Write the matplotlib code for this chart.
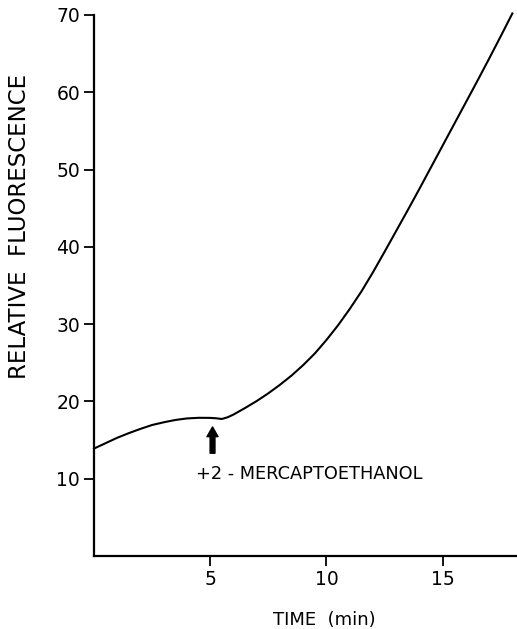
import matplotlib
matplotlib.use("Agg")
import matplotlib.pyplot as plt

time_min = [0, 0.5, 1.0, 1.5, 2.0, 2.5, 3.0, 3.5, 4.0, 4.5, 5.0, 5.25, 5.5, 5.75,
            6.0, 6.5, 7.0, 7.5, 8.0, 8.5, 9.0, 9.5, 10.0, 10.5, 11.0, 11.5, 12.0,
            12.5, 13.0, 13.5, 14.0, 14.5, 15.0, 15.5, 16.0, 16.5, 17.0, 17.5, 18.0]
fluorescence = [13.9, 14.6, 15.3, 15.9, 16.45, 16.95, 17.3, 17.6, 17.8, 17.88, 17.87,
                17.82, 17.73, 17.95, 18.3, 19.15, 20.05, 21.05, 22.15, 23.35, 24.7, 26.2,
                27.95, 29.85, 31.95, 34.2, 36.7, 39.35, 42.05, 44.75, 47.5, 50.3, 53.1,
                55.9, 58.7, 61.5, 64.35, 67.25, 70.2]
x_ticks = [5, 10, 15]
y_ticks = [10, 20, 30, 40, 50, 60, 70]
annotation = "+2 - MERCAPTOETHANOL"
arrow_x = 5.1

plt.rcParams['font.family'] = ['DejaVu Sans']

fig = plt.figure(figsize=(5.17, 6.29), dpi=100)
ax = fig.add_axes([94/517, 73/629, (517-94)/517, (556-15)/629])
ax.plot(time_min, fluorescence, color='black', lw=1.5, clip_on=False,
        solid_joinstyle='round')
ax.set_xlim(0, 18.2)
ax.set_ylim(0, 70)
ax.set_xticks(x_ticks)
ax.set_yticks(y_ticks)
ax.tick_params(direction='out', length=7, width=1.3, labelsize=13.5, pad=3)
for s in ['top', 'right']:
    ax.spines[s].set_visible(False)
for s in ['left', 'bottom']:
    ax.spines[s].set_linewidth(1.6)

ax.annotate('', xy=(arrow_x, 16.7), xytext=(arrow_x, 13.3),
            arrowprops=dict(arrowstyle='simple,head_width=0.8,head_length=0.7,tail_width=0.35',
                            color='black', shrinkA=0, shrinkB=0))
ax.text(4.4, 10.6, annotation, ha='left', va='center', fontsize=12.8)

fig.text(20/517, 1 - 226/629, 'RELATIVE  FLUORESCENCE', rotation=90, ha='center',
         va='center', fontsize=16.5)
fig.text(324/517, 1 - 620/629, 'TIME  (min)', ha='center', va='center', fontsize=13)

fig.savefig('out.png', dpi=100)
